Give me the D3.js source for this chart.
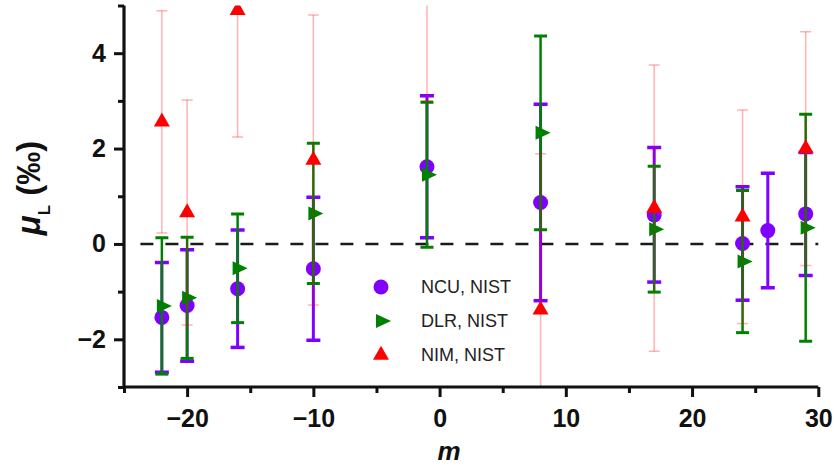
<!DOCTYPE html>
<html>
<head>
<meta charset="utf-8">
<script src="https://cdn.jsdelivr.net/npm/d3@7"></script>
<style>
  html, body { margin: 0; padding: 0; background: #fff; }
  svg { display: block; font-family: "Liberation Sans", Arial, sans-serif; }
</style>
</head>
<body>
<svg id="chart" width="834" height="466"></svg>
<script>
// Angular-momentum index m for each comparison
const mNCU = [-22, -20, -16, -10, -1, 8, 17, 24, 26, 29];
const mDLR = [-22, -20, -16, -10, -1, 8, 17, 24, 29];
const mNIM = [-22, -20, -16, -10, -1, 8, 17, 24, 29];

// Relative deviations μL (‰) and their uncertainties
const ncuVal = [-1.54, -1.29, -0.94, -0.52, 1.62, 0.87, 0.61, 0.01, 0.28, 0.63];
const ncuErr = [1.15, 1.17, 1.23, 1.50, 1.49, 2.06, 1.41, 1.19, 1.20, 1.29];
const dlrVal = [-1.30, -1.13, -0.51, 0.64, 1.45, 2.33, 0.31, -0.37, 0.34];
const dlrErr = [1.43, 1.27, 1.14, 1.47, 1.52, 2.03, 1.32, 1.49, 2.38];
const nimVal = [2.56, 0.66, 4.90, 1.76, 6.00, -1.38, 0.75, 0.57, 2.00];
const nimErr = [2.33, 2.36, 2.66, 3.04, 3.00, 3.27, 3.00, 2.24, 2.45];

const seriesNames = ["NCU, NIST", "DLR, NIST", "NIM, NIST"];

const xMajor = [-20, -10, 0, 10, 20, 30];
const xMinor = [-25, -15, -5, 5, 15, 25];
const yMajor = [-2, 0, 2, 4];
const yMinor = [-3, -1, 1, 3, 5];

const svg = d3.select("#chart");
const x = d3.scaleLinear().domain([-25, 30]).range([124, 818.3]);
const y = d3.scaleLinear().domain([-3, 5]).range([387, 5.5]);

svg.append("defs").append("clipPath").attr("id", "plotClip")
  .append("rect")
  .attr("x", x(-25)).attr("y", y(5))
  .attr("width", x(30) - x(-25)).attr("height", y(-3) - y(5));

// zero reference line
svg.append("line")
  .attr("x1", x(-23.7)).attr("x2", x(30))
  .attr("y1", y(0)).attr("y2", y(0))
  .attr("stroke", "#1a1a1a").attr("stroke-width", 2.5)
  .attr("stroke-dasharray", "13,12");

const plot = svg.append("g").attr("clip-path", "url(#plotClip)");

const series = [
  { m: mNCU, v: ncuVal, e: ncuErr, color: "#7f00ff", bar: "#7f00ff", bw: 3, cap: 14, capw: 3.5, shape: "circle" },
  { m: mDLR, v: dlrVal, e: dlrErr, color: "#008000", bar: "#008000", bw: 2.5, cap: 13, capw: 3, shape: "right" },
  { m: mNIM, v: nimVal, e: nimErr, color: "#ff0000", bar: "rgba(255,0,0,0.3)", bw: 1.5, cap: 11, capw: 1.5, shape: "up" }
];

const shapePath = {
  right: "M-5,-7L10,0L-5,7Z",
  up: "M-8,4.7L0,-9.3L8,4.7Z"
};

function drawMarker(g, shape, color) {
  if (shape === "circle") {
    g.append("circle").attr("r", 7.5).attr("fill", color);
  } else {
    g.append("path").attr("d", shapePath[shape]).attr("fill", color);
  }
}

series.forEach(s => {
  const g = plot.append("g");
  const pts = s.m.map((m, i) => ({ m, v: s.v[i], e: s.e[i] }));
  const bars = g.selectAll(".eb").data(pts).enter().append("g");
  bars.append("line")
    .attr("x1", d => x(d.m)).attr("x2", d => x(d.m))
    .attr("y1", d => y(d.v + d.e)).attr("y2", d => y(d.v - d.e))
    .attr("stroke", s.bar).attr("stroke-width", s.bw);
  [1, -1].forEach(sign => {
    bars.append("line")
      .attr("x1", d => x(d.m) - s.cap / 2).attr("x2", d => x(d.m) + s.cap / 2)
      .attr("y1", d => y(d.v + sign * d.e)).attr("y2", d => y(d.v + sign * d.e))
      .attr("stroke", s.bar).attr("stroke-width", s.capw);
  });
  pts.forEach(d => {
    const mk = g.append("g").attr("transform", `translate(${x(d.m)},${y(d.v)})`);
    drawMarker(mk, s.shape, s.color);
  });
});

// axes
const axisFont = g => g.selectAll("text")
  .attr("font-family", "Liberation Sans, Arial, sans-serif")
  .attr("font-size", 25).attr("font-weight", "bold").attr("fill", "#111");

const xAxis = svg.append("g").attr("transform", `translate(0,${y(-3)})`)
  .call(d3.axisBottom(x).tickValues(xMajor).tickSize(10).tickPadding(12).tickFormat(d3.format("d")))
  .call(axisFont);
svg.append("g").attr("transform", `translate(0,${y(-3)})`)
  .call(d3.axisBottom(x).tickValues(xMinor).tickSize(6).tickFormat(""))
  .call(g => g.select(".domain").remove());

const yAxis = svg.append("g").attr("transform", `translate(${x(-25)},0)`)
  .call(d3.axisLeft(y).tickValues(yMajor).tickSize(10).tickPadding(8).tickFormat(d3.format("d")))
  .call(axisFont);
svg.append("g").attr("transform", `translate(${x(-25)},0)`)
  .call(d3.axisLeft(y).tickValues(yMinor).tickSize(6).tickFormat(""))
  .call(g => g.select(".domain").remove());

svg.selectAll(".domain").attr("stroke", "#111").attr("stroke-width", 3.2);
svg.selectAll(".tick line").attr("stroke", "#111").attr("stroke-width", 3);
xAxis.select(".domain").attr("d", `M${x(-25)},0H${x(30)}`);
yAxis.select(".domain").attr("d", `M0,${y(5)}V${y(-3)}`);

// axis titles
svg.append("text")
  .attr("x", 449).attr("y", 460)
  .attr("text-anchor", "middle")
  .attr("font-size", 26).attr("font-weight", "bold").attr("font-style", "italic")
  .attr("fill", "#111")
  .text("m");

const yt = svg.append("text")
  .attr("transform", "translate(40,188) rotate(-90)")
  .attr("text-anchor", "middle")
  .attr("font-size", 33).attr("font-weight", "bold").attr("fill", "#111");
yt.append("tspan").attr("font-style", "italic").text("μ");
yt.append("tspan").attr("font-size", 17).attr("dy", 10).text("L");
yt.append("tspan").attr("dy", -10).text(" (‰)");

// legend
const legend = svg.append("g");
const legendY = [287, 321, 355];
series.forEach((s, i) => {
  const mk = legend.append("g").attr("transform", `translate(381,${legendY[i]})`);
  drawMarker(mk, s.shape, s.color);
  legend.append("text")
    .attr("x", 421).attr("y", legendY[i]).attr("dy", "0.36em")
    .attr("font-size", 18).attr("fill", "#222")
    .text(seriesNames[i]);
});
</script>
</body>
</html>
